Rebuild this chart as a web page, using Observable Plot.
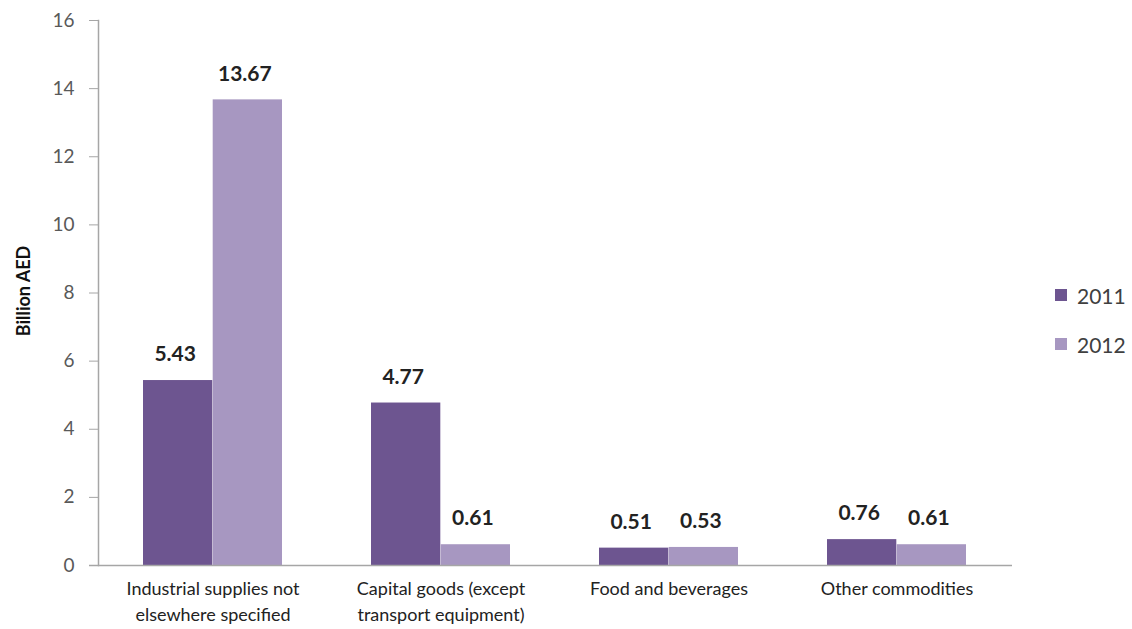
<!DOCTYPE html>
<html>
<head>
<meta charset="utf-8">
<script src="https://cdn.jsdelivr.net/npm/d3@7"></script>
<script src="https://cdn.jsdelivr.net/npm/@observablehq/plot@0.6"></script>
<style>
  html, body { margin: 0; padding: 0; background: #fff; }
  #wrap { position: relative; width: 1132px; height: 629px; font-family: Lato, "Open Sans", sans-serif; }
  #legend { position: absolute; left: 1055px; top: 281px; font-size: 21px; color: #404040; }
  .li { display: flex; align-items: center; height: 28px; margin-bottom: 21px; }
  .sw { width: 12px; height: 12px; margin-right: 10px; }
</style>
</head>
<body>
<div id="wrap"><div id="legend"></div></div>
<script>
const categories = [
  "Industrial supplies not elsewhere specified",
  "Capital goods (except transport equipment)",
  "Food and beverages",
  "Other commodities"
];
const tickLabels = [
  "Industrial supplies not\nelsewhere specified",
  "Capital goods (except\ntransport equipment)",
  "Food and beverages",
  "Other commodities"
];
const years = ["2011", "2012"];
const values2011 = [5.43, 4.77, 0.51, 0.76];
const values2012 = [13.67, 0.61, 0.53, 0.61];
const yTicks = [0, 2, 4, 6, 8, 10, 12, 14, 16];
const colors = ["#6d5590", "#a797c1"];

const W = 1132, H = 629, mL = 98, mR = 120, mT = 20, mB = 64;
const pIn = 0.39, pOut = 0.195;
const step = (W - mL - mR) / (categories.length - pIn + 2 * pOut);
const bw = step * (1 - pIn);

const d11 = categories.map((c, i) => ({category: c, year: years[0], value: values2011[i]}));
const d12 = categories.map((c, i) => ({category: c, year: years[1], value: values2012[i]}));
const labelOf = new Map(categories.map((c, i) => [c, tickLabels[i]]));

const chart = Plot.plot({
  width: W, height: H,
  marginLeft: mL, marginRight: mR, marginTop: mT, marginBottom: mB,
  style: {fontFamily: "Lato, 'Open Sans', sans-serif", background: "#fff"},
  x: {domain: categories, paddingInner: pIn, paddingOuter: pOut, label: null},
  y: {domain: [0, 16], label: null},
  color: {domain: years, range: colors},
  marks: [
    Plot.barY(d11, {x: "category", y: "value", fill: d => d.year, insetRight: bw / 2, insetLeft: 0}),
    Plot.barY(d12, {x: "category", y: "value", fill: d => d.year, insetLeft: bw / 2, insetRight: 0}),
    Plot.text(d11, {x: "category", y: "value", text: d => d.value.toFixed(2), dx: -bw / 4 - 3, dy: -26, lineAnchor: "middle", fontWeight: "bold", fontSize: 21, fill: "#222"}),
    Plot.text(d12, {x: "category", y: "value", text: d => d.value.toFixed(2), dx: bw / 4 - 3, dy: -26, lineAnchor: "middle", fontWeight: "bold", fontSize: 21, fill: "#222"}),
    Plot.ruleY([0], {stroke: "#a6a6a6", strokeWidth: 1.5, insetLeft: -9}),
    Plot.frame({anchor: "left", stroke: "#a6a6a6", strokeWidth: 1.5}),
    Plot.axisY({ticks: yTicks, tickSize: 9, tickPadding: 15, stroke: "#a6a6a6", fontSize: 19, fill: "#595959", label: null}),
    Plot.axisX({tickSize: 0, tickPadding: 11, tickFormat: c => labelOf.get(c), fontSize: 18, lineHeight: 1.45, fill: "#222", label: null}),
    Plot.text(["Billion AED"], {frameAnchor: "left", textAnchor: "middle", rotate: -90, dx: -74, dy: -2, fontWeight: "bold", fontSize: 18, fill: "#111"})
  ]
});
document.getElementById("wrap").prepend(chart);

const legend = document.getElementById("legend");
years.forEach((y, i) => {
  const row = document.createElement("div");
  row.className = "li";
  row.innerHTML = `<div class="sw" style="background:${colors[i]}"></div><span>${y}</span>`;
  legend.appendChild(row);
});
</script>
</body>
</html>
